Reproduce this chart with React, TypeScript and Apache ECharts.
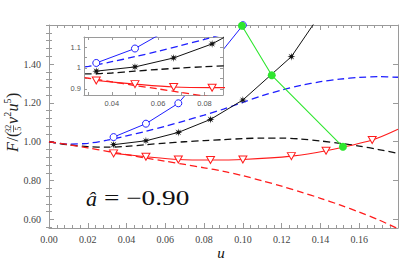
import React, { useEffect, useRef } from 'react';
import * as echarts from 'echarts';

// ---- data ----
const uGrid = [0, 0.01, 0.02, 0.03, 0.04, 0.05, 0.06, 0.07, 0.08, 0.09, 0.1, 0.11, 0.12, 0.13, 0.14, 0.15, 0.16, 0.17, 0.18];
const blueDashF = [1.000, 0.988, 0.992, 1.008, 1.030, 1.054, 1.080, 1.108, 1.137, 1.168, 1.203, 1.237, 1.266, 1.290, 1.309, 1.322, 1.331, 1.335, 1.332];
const blackDashF = [1.000, 0.984, 0.975, 0.972, 0.976, 0.985, 0.993, 1.000, 1.006, 1.011, 1.016, 1.019, 1.019, 1.014, 1.004, 0.992, 0.978, 0.960, 0.940];
const redDashF = [1.000, 0.985, 0.968, 0.951, 0.934, 0.916, 0.900, 0.883, 0.866, 0.848, 0.825, 0.799, 0.771, 0.741, 0.709, 0.675, 0.638, 0.598, 0.552];

const circleU = [0.0333, 0.05, 0.0667, 0.0833, 0.1];
const circleF = [1.024, 1.093, 1.198, 1.393, 1.6];

const starU = [0.0333, 0.05, 0.0667, 0.0833, 0.1, 0.125, 0.1429];
const starF = [0.985, 1.005, 1.048, 1.115, 1.215, 1.438, 1.70];

const triU = [0.0333, 0.05, 0.0667, 0.0833, 0.1, 0.125, 0.1429, 0.1667];
const triF = [0.940, 0.923, 0.909, 0.906, 0.909, 0.926, 0.954, 1.009];
const redFitEndU = 0.18;
const redFitEndF = 1.064;

const greenU = [0.0995, 0.1149, 0.1516];
const greenF = [1.597, 1.342, 0.974];

const xLabels = [0, 0.02, 0.04, 0.06, 0.08, 0.1, 0.12, 0.14, 0.16];
const yMajor = [0.6, 0.8, 1.0, 1.2, 1.4];
const yMinor = [0.56, 0.64, 0.68, 0.72, 0.76, 0.84, 0.88, 0.92, 0.96, 1.04, 1.08, 1.12, 1.16, 1.24, 1.28, 1.32, 1.36, 1.44, 1.48, 1.52, 1.56, 1.6];
const insetXLabels = [0.04, 0.06, 0.08];
const insetXTicks = [0.03, 0.04, 0.05, 0.06, 0.07, 0.08];
const insetYLabels = [0.9, 1.0, 1.1];
const insetYTicks = [0.9, 0.95, 1.0, 1.05, 1.1];

const BLUE = '#1e1eff';
const RED = '#ff1c1c';
const BLACK = '#111';
const GREEN = '#2ee62e';
const FRAME = '#9a9a9a';
const SERIF = 'Liberation Serif';
const SANS = 'Liberation Sans';

function starPath(): string {
  const n = 8;
  let d = '';
  for (let i = 0; i < 2 * n; i++) {
    const ang = (Math.PI * i) / n - Math.PI / 2;
    const rad = i % 2 === 0 ? 10 : 3.6;
    d += (i === 0 ? 'M' : 'L') + (rad * Math.cos(ang)).toFixed(2) + ' ' + (rad * Math.sin(ang)).toFixed(2) + ' ';
  }
  return 'path://' + d + 'Z';
}

const zip = (a: number[], b: number[]) => a.map((v, i) => [v, b[i]]);

function curveSeries(xi: number, yi: number, z: number): any[] {
  const dashed = (data: number[], color: string) => ({
    type: 'line', xAxisIndex: xi, yAxisIndex: yi, z,
    data: zip(uGrid, data), smooth: 0.3, showSymbol: false, symbol: 'none',
    lineStyle: { color, width: 1.3, type: [7, 4] }, silent: true,
  });
  const triData: any[] = zip(triU, triF).map((p) => ({ value: p }));
  triData.push({ value: [redFitEndU, redFitEndF], symbol: 'none' });
  return [
    dashed(blueDashF, BLUE),
    dashed(blackDashF, BLACK),
    dashed(redDashF, RED),
    {
      type: 'line', xAxisIndex: xi, yAxisIndex: yi, z: z + 1,
      data: zip(circleU, circleF), symbol: 'circle', symbolSize: 7,
      itemStyle: { color: '#fff', borderColor: BLUE, borderWidth: 1 },
      lineStyle: { color: BLUE, width: 1 }, silent: true,
    },
    {
      type: 'line', xAxisIndex: xi, yAxisIndex: yi, z: z + 1,
      data: zip(starU, starF), symbol: starPath(), symbolSize: 8,
      itemStyle: { color: BLACK, borderWidth: 0 },
      lineStyle: { color: BLACK, width: 1 }, silent: true,
    },
    {
      type: 'line', xAxisIndex: xi, yAxisIndex: yi, z: z + 1,
      data: triData, smooth: 0.3, symbol: 'triangle', symbolRotate: 180, symbolSize: [8, 7],
      itemStyle: { color: '#fff', borderColor: RED, borderWidth: 1 },
      lineStyle: { color: RED, width: 1.1 }, silent: true,
    },
  ];
}

const tickStyle = { color: FRAME, width: 1 };

export default function App() {
  const ref = useRef<HTMLDivElement>(null);
  useEffect(() => {
    if (!ref.current) return;
    const chart = echarts.init(ref.current, null, { renderer: 'svg' });
    const mainLabel = { fontFamily: SERIF, fontSize: 10, color: '#444' };
    const insetLabel = { fontFamily: SANS, fontSize: 7.5, color: '#555' };
    const option: any = {
      animation: false,
      backgroundColor: '#fff',
      textStyle: { fontFamily: SERIF },
      grid: [
        { left: 49, top: 25, right: 1, bottom: 35, outerBoundsMode: 'none', containLabel: false, show: false },
        { left: 84, top: 37, width: 139, height: 58, outerBoundsMode: 'none', containLabel: false, show: true, backgroundColor: '#fff', borderWidth: 0, z: 10 },
      ],
      xAxis: [
        {
          gridIndex: 0, type: 'value', min: 0, max: 0.18, interval: 0.02, position: 'bottom',
          axisLine: { show: true, onZero: false, lineStyle: tickStyle },
          axisTick: { show: true, inside: true, length: 5, lineStyle: tickStyle },
          minorTick: { show: true, splitNumber: 5, length: 3, lineStyle: tickStyle },
          splitLine: { show: false }, minorSplitLine: { show: false },
          axisLabel: { ...mainLabel, margin: 6, customValues: xLabels, formatter: (v: number) => v.toFixed(2) },
        },
        {
          gridIndex: 0, type: 'value', min: 0, max: 0.18, interval: 0.02, position: 'top',
          axisLine: { show: true, onZero: false, lineStyle: tickStyle },
          axisTick: { show: true, inside: true, length: 5, lineStyle: tickStyle },
          minorTick: { show: true, splitNumber: 5, length: 3, lineStyle: tickStyle },
          splitLine: { show: false }, axisLabel: { show: false },
        },
        {
          gridIndex: 1, type: 'value', min: 0.028, max: 0.088, position: 'bottom', z: 11,
          axisLine: { show: true, onZero: false, lineStyle: tickStyle },
          axisTick: { show: true, inside: true, length: 3, lineStyle: tickStyle, customValues: insetXTicks },
          splitLine: { show: false },
          axisLabel: { ...insetLabel, margin: 4, customValues: insetXLabels, formatter: (v: number) => v.toFixed(2) },
        },
        {
          gridIndex: 1, type: 'value', min: 0.028, max: 0.088, position: 'top', z: 11,
          axisLine: { show: true, onZero: false, lineStyle: tickStyle },
          axisTick: { show: true, inside: true, length: 3, lineStyle: tickStyle, customValues: insetXTicks },
          splitLine: { show: false }, axisLabel: { show: false },
        },
      ],
      yAxis: [
        {
          gridIndex: 0, type: 'value', min: 0.556, max: 1.601, position: 'left',
          axisLine: { show: true, onZero: false, lineStyle: tickStyle },
          axisTick: { show: true, inside: true, length: 5, lineStyle: tickStyle, customValues: yMajor },
          splitLine: { show: false },
          axisLabel: { ...mainLabel, margin: 8, customValues: yMajor, formatter: (v: number) => v.toFixed(2) },
        },
        {
          gridIndex: 0, type: 'value', min: 0.556, max: 1.601, position: 'left',
          axisLine: { show: false },
          axisTick: { show: true, inside: true, length: 3, lineStyle: tickStyle, customValues: yMinor },
          splitLine: { show: false }, axisLabel: { show: false },
        },
        {
          gridIndex: 0, type: 'value', min: 0.556, max: 1.601, position: 'right',
          axisLine: { show: true, onZero: false, lineStyle: tickStyle },
          axisTick: { show: true, inside: true, length: 5, lineStyle: tickStyle, customValues: yMajor },
          splitLine: { show: false }, axisLabel: { show: false },
        },
        {
          gridIndex: 0, type: 'value', min: 0.556, max: 1.601, position: 'right',
          axisLine: { show: false },
          axisTick: { show: true, inside: true, length: 3, lineStyle: tickStyle, customValues: yMinor },
          splitLine: { show: false }, axisLabel: { show: false },
        },
        {
          gridIndex: 1, type: 'value', min: 0.871, max: 1.148, position: 'left', z: 11,
          axisLine: { show: true, onZero: false, lineStyle: tickStyle },
          axisTick: { show: true, inside: true, length: 3, lineStyle: tickStyle, customValues: insetYTicks },
          splitLine: { show: false },
          axisLabel: { ...insetLabel, margin: 3, customValues: insetYLabels, formatter: (v: number) => (Math.abs(v - 1) < 1e-9 ? '1' : v.toFixed(1)) },
        },
        {
          gridIndex: 1, type: 'value', min: 0.871, max: 1.148, position: 'right', z: 11,
          axisLine: { show: true, onZero: false, lineStyle: tickStyle },
          axisTick: { show: true, inside: true, length: 3, lineStyle: tickStyle, customValues: insetYTicks },
          splitLine: { show: false }, axisLabel: { show: false },
        },
      ],
      series: [
        ...curveSeries(0, 0, 2),
        {
          type: 'line', xAxisIndex: 0, yAxisIndex: 0, z: 5,
          data: zip(greenU, greenF), symbol: 'circle', symbolSize: 8,
          itemStyle: { color: GREEN, borderWidth: 0 },
          lineStyle: { color: GREEN, width: 1.1 }, silent: true,
        },
        ...curveSeries(2, 4, 12),
      ],
      graphic: [
        {
          type: 'text', x: 86, y: 198, z: 20,
          style: { text: 'â', fontFamily: SERIF, fontSize: 22, fontStyle: 'italic', fill: '#111', verticalAlign: 'middle' },
        },
        {
          type: 'text', x: 104, y: 198, scaleX: 1.3, z: 20,
          style: { text: '= −0.90', fontFamily: SERIF, fontSize: 21, fill: '#111', verticalAlign: 'middle' },
        },
        {
          type: 'text', x: 221, y: 253, z: 20,
          style: { text: 'u', fontFamily: SERIF, fontSize: 15, fontStyle: 'italic', fill: '#111', align: 'center', verticalAlign: 'middle' },
        },
        {
          type: 'group', x: 18, y: 152, rotation: Math.PI / 2, z: 20,
          children: [
            { type: 'text', x: 0, y: -5.4, style: { text: 'F', fontFamily: SERIF, fontSize: 16, fontStyle: 'italic', fill: '#222', verticalAlign: 'middle' } },
            { type: 'text', x: 10.5, y: -5.4, style: { text: '/(', fontFamily: SERIF, fontSize: 16, fill: '#222', verticalAlign: 'middle' } },
            { type: 'text', x: 23.2, y: -9.5, style: { text: '32', fontFamily: SERIF, fontSize: 8, fill: '#222', align: 'center', verticalAlign: 'middle' } },
            { type: 'line', shape: { x1: 19.8, y1: -4.5, x2: 26.6, y2: -4.5 }, style: { stroke: '#222', lineWidth: 0.7 } },
            { type: 'text', x: 23.2, y: 0.5, style: { text: '5', fontFamily: SERIF, fontSize: 8, fill: '#222', align: 'center', verticalAlign: 'middle' } },
            { type: 'text', x: 28, y: -5.4, style: { text: 'ν', fontFamily: SERIF, fontSize: 16, fontStyle: 'italic', fill: '#222', verticalAlign: 'middle' } },
            { type: 'text', x: 35.2, y: -10.5, style: { text: '2', fontFamily: SERIF, fontSize: 10, fill: '#222', verticalAlign: 'middle' } },
            { type: 'text', x: 40.5, y: -5.4, style: { text: 'u', fontFamily: SERIF, fontSize: 16, fontStyle: 'italic', fill: '#222', verticalAlign: 'middle' } },
            { type: 'text', x: 48.5, y: -10.5, style: { text: '5', fontFamily: SERIF, fontSize: 10, fill: '#222', verticalAlign: 'middle' } },
            { type: 'text', x: 54, y: -5.4, style: { text: ')', fontFamily: SERIF, fontSize: 16, fill: '#222', verticalAlign: 'middle' } },
          ],
        },
      ],
    };
    chart.setOption(option);
    return () => chart.dispose();
  }, []);
  return <div ref={ref} style={{ position: 'fixed', left: 0, top: 0, width: 399, height: 263 }} />;
}
